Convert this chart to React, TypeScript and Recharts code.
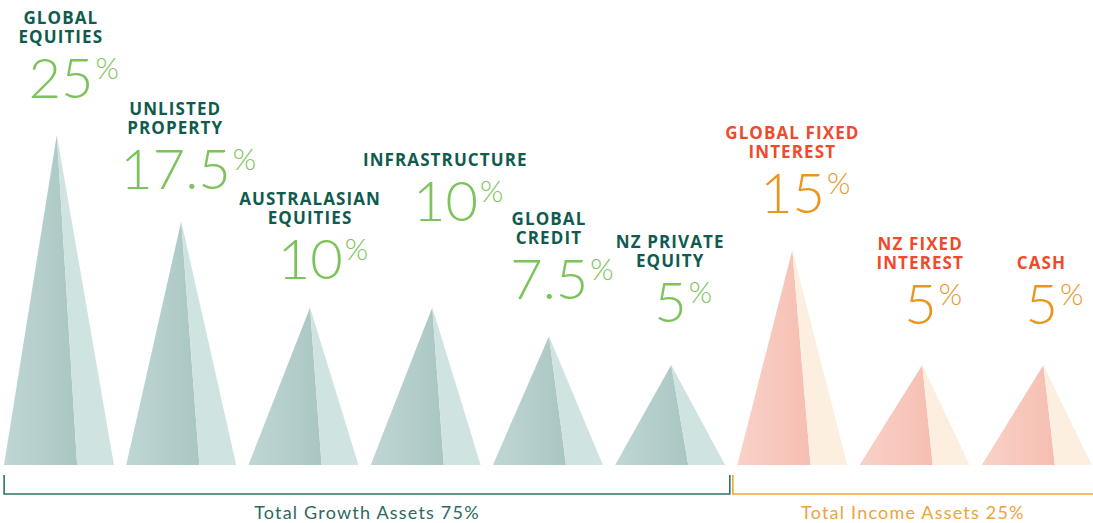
import { BarChart, Bar, XAxis, YAxis, LabelList, Customized } from "recharts";

const assetClasses = [
  "Global Equities",
  "Unlisted Property",
  "Australasian Equities",
  "Infrastructure",
  "Global Credit",
  "NZ Private Equity",
  "Global Fixed Interest",
  "NZ Fixed Interest",
  "Cash",
];
const labelLines = [
  ["GLOBAL", "EQUITIES"],
  ["UNLISTED", "PROPERTY"],
  ["AUSTRALASIAN", "EQUITIES"],
  ["INFRASTRUCTURE"],
  ["GLOBAL", "CREDIT"],
  ["NZ PRIVATE", "EQUITY"],
  ["GLOBAL FIXED", "INTEREST"],
  ["NZ FIXED", "INTEREST"],
  ["CASH"],
];
const allocations = [25, 17.5, 10, 10, 7.5, 5, 15, 5, 5];
const assetGroups = ["growth", "growth", "growth", "growth", "growth", "growth", "income", "income", "income"];
const groupNames = ["growth", "income"];
const groupTitles = ["Total Growth Assets", "Total Income Assets"];

// the peaks sit on a scale that does not start at zero
const AXIS_FLOOR = -3.7;
const AXIS_TOP = 25;

const CHART_W = 1100;
const CHART_H = 523;
const SHIFT_X = -2;
const BAR_W = 110;
const BAND = CHART_W / assetClasses.length;

const palette: Record<string, any> = {
  growth: { title: "#0f5b4f", value: "#7dc35c", light: "#cfe3e1", a: "#c0d7d4", b: "#a9c6c3", bracket: "#2d7268", footer: "#2a6a61" },
  income: { title: "#ee4a2b", value: "#e9961f", light: "#fcefdf", a: "#f9d2c8", b: "#f6beb2", bracket: "#f2a43a", footer: "#f0a23c" },
};

// where the tip sits across the base (the drawing is not quite regular)
const PEAK_AT: Record<string, number> = {
  "Global Equities": 0.48,
  "Unlisted Property": 0.5,
  "Australasian Equities": 0.56,
  Infrastructure: 0.56,
  "Global Credit": 0.51,
  "NZ Private Equity": 0.51,
  "Global Fixed Interest": 0.5,
  "NZ Fixed Interest": 0.57,
  Cash: 0.56,
};
const FOLD_AT = 0.665;

// small layout nudges so labels do not collide
const LABEL_NUDGE: Record<string, { dx: number; dy: number }> = {
  "Global Equities": { dx: 4, dy: 0 },
  "Unlisted Property": { dx: -6, dy: 5 },
  "Australasian Equities": { dx: 0, dy: 9 },
  Infrastructure: { dx: 13, dy: -49 },
  "NZ Private Equity": { dx: -1, dy: -6 },
  "NZ Fixed Interest": { dx: -2, dy: -4 },
  Cash: { dx: -2, dy: -4 },
};

const data = assetClasses.map((name, i) => ({
  name,
  value: allocations[i],
  group: assetGroups[i],
  lines: labelLines[i],
}));

function Peak(props: any) {
  const { x, y, width, height, payload } = props;
  const top = Math.min(y, y + height);
  const bottom = Math.max(y, y + height);
  const px = x + width * (PEAK_AT[payload.name] ?? 0.5);
  const dx = x + width * FOLD_AT;
  const c = palette[payload.group];
  return (
    <g>
      <polygon points={`${x},${bottom} ${px},${top} ${dx},${bottom}`} fill={`url(#face-${payload.group})`} />
      <polygon points={`${dx},${bottom} ${px},${top} ${x + width},${bottom}`} fill={c.light} />
    </g>
  );
}

function PeakLabel(props: any) {
  const { x, y, width, height, index } = props;
  const item = data[index];
  const c = palette[item.group];
  const nudge = LABEL_NUDGE[item.name] || { dx: 0, dy: 0 };
  const top = Math.min(y, y + height);
  const px = x + width * (PEAK_AT[item.name] ?? 0.5) + nudge.dx;
  const vb = top - 37 + nudge.dy;
  const n = item.lines.length;
  return (
    <g>
      {item.lines.map((line: string, i: number) => (
        <text
          key={line}
          x={px}
          y={vb - 55 - (n - 1 - i) * 19}
          textAnchor="middle"
          fontFamily="'Open Sans', sans-serif"
          fontWeight={700}
          fontSize={17}
          letterSpacing={1.1}
          fill={c.title}
        >
          {line}
        </text>
      ))}
      <text
        x={px + 13}
        y={vb}
        textAnchor="middle"
        fontFamily="Lato, sans-serif"
        fontWeight={300}
        fontSize={56}
        fill={c.value}
      >
        <tspan>{item.value}</tspan>
        <tspan dx={2} dy={-19} fontSize={30}>%</tspan>
      </text>
    </g>
  );
}

function Brackets() {
  const counts = groupNames.map((g) => assetGroups.filter((a) => a === g).length);
  const totals = groupNames.map((g) =>
    allocations.filter((_v, i) => assetGroups[i] === g).reduce((s, v) => s + v, 0)
  );
  const inset = (BAND - BAR_W) / 2;
  const boundary = counts[0] * BAND;
  const spans = [
    [inset, boundary - 1.5],
    [boundary + 1.5, CHART_W],
  ];
  const visibleRight = 1093 - SHIFT_X;
  return (
    <g>
      {groupNames.map((g, i) => {
        const [x1, x2] = spans[i];
        const c = palette[g];
        const mid = (x1 + Math.min(x2, visibleRight)) / 2;
        return (
          <g key={g}>
            <polyline
              points={`${x1},475 ${x1},494 ${x2},494 ${x2},475`}
              fill="none"
              stroke={c.bracket}
              strokeWidth={1.6}
            />
            <text
              x={mid}
              y={519}
              textAnchor="middle"
              fontFamily="Lato, sans-serif"
              fontWeight={400}
              fontSize={18}
              letterSpacing={1.2}
              fill={c.footer}
            >
              {`${groupTitles[i]} ${totals[i]}%`}
            </text>
          </g>
        );
      })}
    </g>
  );
}

export default function App() {
  return (
    <div
      style={{
        position: "fixed",
        left: 0,
        top: 0,
        width: 1093,
        height: 523,
        overflow: "hidden",
        background: "#ffffff",
      }}
    >
      <div style={{ position: "absolute", left: SHIFT_X, top: 0 }}>
        <BarChart
          width={CHART_W}
          height={CHART_H}
          data={data}
          margin={{ top: 135, right: 0, bottom: 58, left: 0 }}
          barSize={BAR_W}
        >
          <defs>
            {groupNames.map((g) => (
              <linearGradient key={g} id={`face-${g}`} x1="0" y1="0" x2="1" y2="0">
                <stop offset="0%" stopColor={palette[g].a} />
                <stop offset="100%" stopColor={palette[g].b} />
              </linearGradient>
            ))}
          </defs>
          <XAxis dataKey="name" hide />
          <YAxis type="number" domain={[AXIS_FLOOR, AXIS_TOP]} hide />
          <Bar
            dataKey={(d: any) => [AXIS_FLOOR, d.value]}
            shape={<Peak />}
            isAnimationActive={false}
          >
            <LabelList content={<PeakLabel />} />
          </Bar>
          <Customized component={<Brackets />} />
        </BarChart>
      </div>
    </div>
  );
}
